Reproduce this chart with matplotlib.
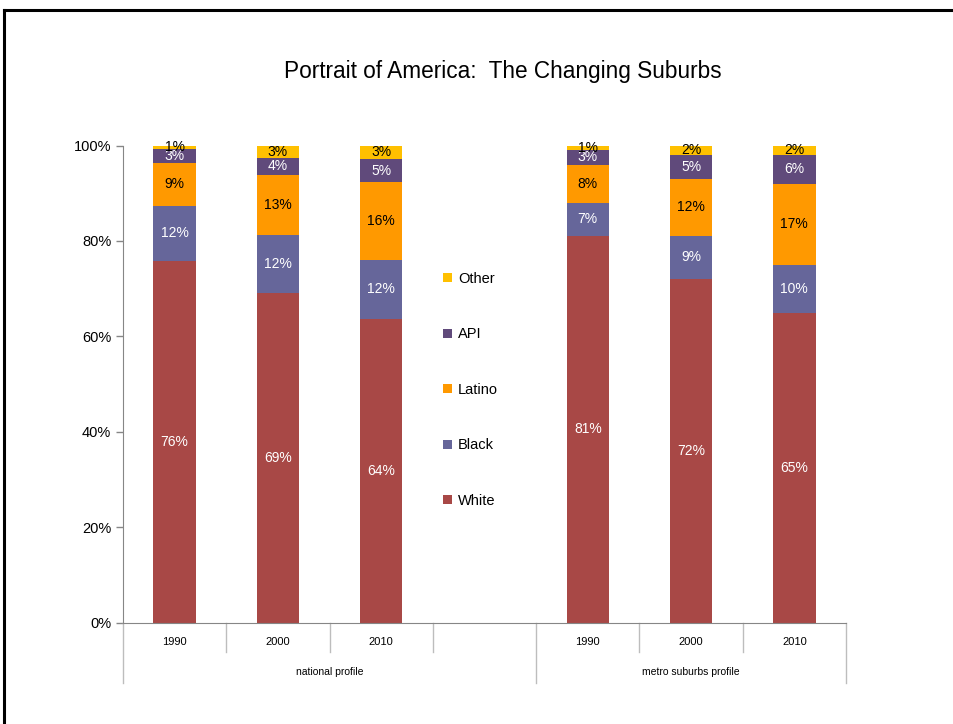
import matplotlib
matplotlib.use("Agg")
import matplotlib.pyplot as plt
from matplotlib.lines import Line2D
from matplotlib.patches import Patch

plt.rcParams['font.family'] = ['Liberation Sans', 'DejaVu Sans']

# Chart data (shares in percent)
groups = ['national profile', 'metro suburbs profile']
years = ['1990', '2000', '2010']
races = ['White', 'Black', 'Latino', 'API', 'Other']

white = [75.8, 69.1, 63.7, 81.1, 72.0, 64.9]
black = [11.6, 12.2, 12.3, 6.9, 9.1, 10.1]
latino = [9.0, 12.6, 16.4, 7.9, 11.9, 17.0]
api = [2.9, 3.5, 4.7, 3.2, 5.0, 6.0]
other = [0.7, 2.6, 2.9, 0.9, 2.0, 2.0]

series = [white, black, latino, api, other]
colors = ['#A84846', '#66669A', '#FF9900', '#604A7B', '#FFC000']
label_colors = ['white', 'white', 'black', 'white', 'black']

# slot positions: 3 national, 1 empty slot, 3 metro
positions = [0, 1, 2, 4, 5, 6]

fig = plt.figure(figsize=(9.54, 7.24), dpi=100)
ax = fig.add_axes([0.1289, 0.1399, 0.7579, 0.6591])

bottoms = [0.0] * len(positions)
for vals, col, lcol in zip(series, colors, label_colors):
    ax.bar(positions, vals, width=0.41, bottom=bottoms, color=col)
    for x, v, b in zip(positions, vals, bottoms):
        ax.text(x, b + v / 2, f'{round(v)}%', ha='center', va='center',
                color=lcol, fontsize=10)
    bottoms = [b + v for b, v in zip(bottoms, vals)]

ax.set_xlim(-0.5, 6.5)
ax.set_ylim(0, 100)
ax.set_yticks([0, 20, 40, 60, 80, 100])
ax.set_yticklabels([f'{t}%' for t in [0, 20, 40, 60, 80, 100]], fontsize=10.5)
ax.tick_params(axis='y', color='#868686', length=5, width=1)
ax.set_xticks([])
for s in ['top', 'right']:
    ax.spines[s].set_visible(False)
ax.spines['left'].set_color('#868686')
ax.spines['bottom'].set_color('#868686')

# multi-level category axis
tr = ax.get_xaxis_transform()
for i in range(8):
    x = i - 0.5
    y_end = -0.126 if i in (0, 4, 7) else -0.0614
    ax.add_line(Line2D([x, x], [0, y_end], transform=tr, color='#BDBDBD',
                       lw=1, clip_on=False))
for x, yr in zip(positions, years * 2):
    ax.text(x, -0.0404, yr, transform=tr, ha='center', va='center', fontsize=8)
ax.text(1.5, -0.103, groups[0], transform=tr, ha='center', va='center', fontsize=7.5)
ax.text(5.0, -0.103, groups[1], transform=tr, ha='center', va='center', fontsize=7.5)

# legend in the empty slot
handles = [Patch(facecolor=c) for c in colors[::-1]]
ax.legend(handles, races[::-1], loc='center left', bbox_to_anchor=(0.433, 0.488),
          frameon=False, fontsize=10.5, handlelength=0.6, handleheight=0.6,
          handletextpad=0.4, labelspacing=2.85, borderpad=0)

fig.text(0.527, 0.9006, 'Portrait of America:  The Changing Suburbs',
         ha='center', va='center', fontsize=16.3)

# slide frame
fig.add_artist(Line2D([4 / 954, 1], [1 - 10 / 724, 1 - 10 / 724],
                      transform=fig.transFigure, color='black', lw=2.2))
fig.add_artist(Line2D([4 / 954, 4 / 954], [0, 1 - 10 / 724],
                      transform=fig.transFigure, color='black', lw=2.2))

fig.savefig('out.png', dpi=100)
